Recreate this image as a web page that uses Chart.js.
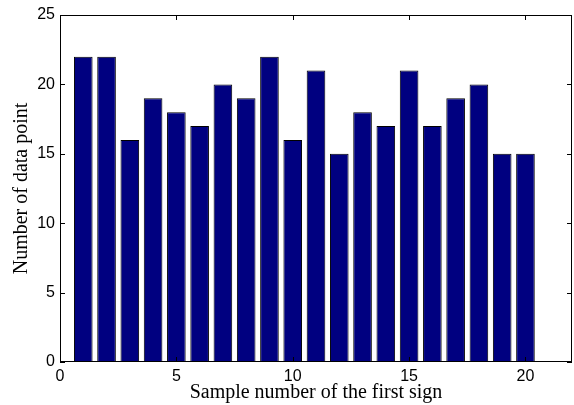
<!DOCTYPE html>
<html>
<head>
<meta charset="utf-8">
<script src="https://cdn.jsdelivr.net/npm/chart.js@4.4.1/dist/chart.umd.min.js"></script>
<style>
  html, body { margin: 0; padding: 0; background: #fff; }
  #wrap { width: 574px; height: 405px; }
</style>
</head>
<body>
<div id="wrap"><canvas id="barChart"></canvas></div>
<script>
const samples = [1, 2, 3, 4, 5, 6, 7, 8, 9, 10, 11, 12, 13, 14, 15, 16, 17, 18, 19, 20];
const counts = [22, 22, 16, 19, 18, 17, 20, 19, 22, 16, 21, 15, 18, 17, 21, 17, 19, 20, 15, 15];
const xTicks = [0, 5, 10, 15, 20];
const yTicks = [0, 5, 10, 15, 20, 25];

// box + inward tick marks, matlab style
const matlabBox = {
    id: 'matlabBox',
    afterDraw(chart) {
        const { ctx, chartArea: a, scales } = chart;
        ctx.save();
        ctx.strokeStyle = '#000';
        ctx.lineWidth = 1;
        ctx.strokeRect(a.left + 0.5, a.top + 0.5, a.right - a.left - 1, a.bottom - a.top - 1);
        ctx.beginPath();
        xTicks.forEach(v => {
            const px = Math.round(scales.x.getPixelForValue(v)) + 0.5;
            ctx.moveTo(px, a.bottom); ctx.lineTo(px, a.bottom - 5);
            ctx.moveTo(px, a.top); ctx.lineTo(px, a.top + 5);
        });
        yTicks.forEach(v => {
            const py = Math.round(scales.y.getPixelForValue(v)) + 0.5;
            ctx.moveTo(a.left, py); ctx.lineTo(a.left + 5, py);
            ctx.moveTo(a.right, py); ctx.lineTo(a.right - 5, py);
        });
        ctx.stroke();
        ctx.restore();
    }
};

const ctx = document.getElementById('barChart').getContext('2d');
new Chart(ctx, {
    type: 'bar',
    data: {
        datasets: [{
            data: samples.map((s, i) => ({ x: s, y: counts[i] })),
            backgroundColor: '#000080',
            borderColor: '#000000',
            borderWidth: 1,
            barPercentage: 0.8,
            categoryPercentage: 1.0
        }]
    },
    options: {
        responsive: true,
        maintainAspectRatio: false,
        animation: false,
        layout: { padding: { top: 15, right: 2, left: 0, bottom: 0 } },
        plugins: { legend: { display: false }, tooltip: { enabled: false } },
        scales: {
            x: {
                type: 'linear',
                min: 0,
                max: 22,
                offset: false,
                afterBuildTicks: axis => { axis.ticks = xTicks.map(v => ({ value: v })); },
                afterFit: axis => { axis.height = 43; },
                grid: { display: false, drawTicks: false, offset: false },
                border: { display: false },
                ticks: {
                    color: '#000',
                    padding: 5,
                    maxRotation: 0,
                    font: { family: 'Liberation Sans', size: 16 }
                },
                title: {
                    display: true,
                    text: 'Sample number of the first sign',
                    color: '#000',
                    padding: { top: 0, bottom: 0 },
                    font: { family: 'Liberation Serif', size: 20 }
                }
            },
            y: {
                min: 0,
                max: 25,
                afterBuildTicks: axis => { axis.ticks = yTicks.map(v => ({ value: v })); },
                afterFit: axis => { axis.width = 60; },
                grid: { display: false, drawTicks: false },
                border: { display: false },
                ticks: {
                    color: '#000',
                    padding: 5,
                    font: { family: 'Liberation Sans', size: 16 }
                },
                title: {
                    display: true,
                    text: 'Number of data point',
                    color: '#000',
                    padding: { top: 10, bottom: 0 },
                    font: { family: 'Liberation Serif', size: 20 }
                }
            }
        }
    },
    plugins: [matlabBox]
});
</script>
</body>
</html>
